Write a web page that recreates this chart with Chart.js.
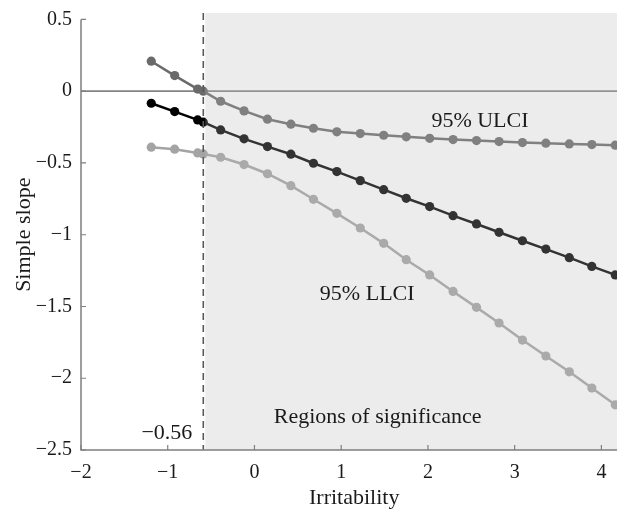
<!DOCTYPE html>
<html>
<head>
<meta charset="utf-8">
<script src="https://cdn.jsdelivr.net/npm/chart.js@4.4.1/dist/chart.umd.min.js"></script>
<style>
html,body{margin:0;padding:0;background:#fff;}
#wrap{width:617px;height:509px;position:relative;}
</style>
</head>
<body>
<div id="wrap"><canvas id="c" width="617" height="509"></canvas></div>
<script>
// Moderator values (Irritability)
const irritability = [-1.19, -0.92, -0.655, -0.59, -0.39, -0.12, 0.15, 0.42, 0.68, 0.95, 1.22, 1.49, 1.75, 2.02, 2.29, 2.56, 2.82, 3.09, 3.36, 3.63, 3.89, 4.16];
// Upper limit of 95% CI
const ulci = [0.209, 0.109, 0.015, 0.0, -0.07, -0.137, -0.195, -0.23, -0.258, -0.283, -0.295, -0.307, -0.318, -0.328, -0.337, -0.344, -0.351, -0.358, -0.362, -0.367, -0.372, -0.376];
// Simple slope estimate
const slope = [-0.084, -0.142, -0.2, -0.216, -0.27, -0.332, -0.386, -0.439, -0.502, -0.56, -0.623, -0.686, -0.746, -0.804, -0.867, -0.925, -0.983, -1.042, -1.1, -1.16, -1.221, -1.28];
// Lower limit of 95% CI
const llci = [-0.39, -0.404, -0.43, -0.437, -0.46, -0.511, -0.575, -0.658, -0.753, -0.851, -0.953, -1.06, -1.174, -1.28, -1.395, -1.506, -1.615, -1.734, -1.845, -1.955, -2.068, -2.185];
// Johnson-Neyman point
const jnPoint = -0.59;
const jnLabel = "\u22120.56";
// Tick values
const xTicks = [-2, -1, 0, 1, 2, 3, 4];
const yTicks = [-2.5, -2, -1.5, -1, -0.5, 0, 0.5];
const xLabel = "Irritability";
const yLabel = "Simple slope";

const SERIF = "'Liberation Serif', 'Times New Roman', serif";
const fmt = v => (v < 0 ? "\u2212" + Math.abs(v) : String(v));
const pts = arr => irritability.map((x, i) => ({x: x, y: arr[i]}));

const overlayPlugin = {
  id: 'overlay',
  beforeDatasetsDraw(chart) {
    const {ctx, chartArea: a, scales: {x, y}} = chart;
    ctx.save();
    const y0 = y.getPixelForValue(0);
    ctx.strokeStyle = '#858585';
    ctx.lineWidth = 1.8;
    ctx.beginPath(); ctx.moveTo(a.left, y0); ctx.lineTo(a.right, y0); ctx.stroke();
    ctx.restore();
  },
  afterDatasetsDraw(chart) {
    const {ctx, chartArea: a, scales: {x, y}} = chart;
    ctx.save();
    const xj = x.getPixelForValue(jnPoint);
    ctx.fillStyle = 'rgba(186,186,186,0.275)';
    ctx.fillRect(xj + 2, a.top, a.right - xj - 2, a.bottom - a.top);
    ctx.strokeStyle = '#5a5a5a';
    ctx.lineWidth = 1.6;
    ctx.setLineDash([7, 5]);
    ctx.beginPath(); ctx.moveTo(xj, a.top); ctx.lineTo(xj, a.bottom); ctx.stroke();
    ctx.setLineDash([]);
    ctx.strokeStyle = '#7f7f7f';
    ctx.lineWidth = 1.5;
    const yTop = y.getPixelForValue(yTicks[yTicks.length - 1]);
    ctx.beginPath();
    ctx.moveTo(a.left, yTop); ctx.lineTo(a.left, a.bottom); ctx.lineTo(a.right, a.bottom);
    ctx.stroke();
    ctx.lineWidth = 1.2;
    ctx.beginPath();
    yTicks.forEach(v => { const p = y.getPixelForValue(v); ctx.moveTo(a.left, p); ctx.lineTo(a.left + 5, p); });
    xTicks.forEach(v => { const p = x.getPixelForValue(v); ctx.moveTo(p, a.bottom); ctx.lineTo(p, a.bottom - 5); });
    ctx.stroke();
    ctx.fillStyle = '#1a1a1a';
    ctx.font = '22px ' + SERIF;
    ctx.textBaseline = 'alphabetic';
    ctx.textAlign = 'center';
    ctx.fillText('95% ULCI', x.getPixelForValue(2.6), y.getPixelForValue(-0.246));
    ctx.fillText('95% LLCI', x.getPixelForValue(1.3), y.getPixelForValue(-1.453));
    ctx.fillText('Regions of significance', x.getPixelForValue(1.42), y.getPixelForValue(-2.312));
    ctx.textAlign = 'right';
    ctx.fillText(jnLabel, xj - 11, y.getPixelForValue(-2.424));
    ctx.font = '22px ' + SERIF;
    ctx.textAlign = 'center';
    ctx.fillText(xLabel, x.getPixelForValue(1.15), 504);
    ctx.save();
    ctx.translate(30, y.getPixelForValue(-1.0));
    ctx.rotate(-Math.PI / 2);
    ctx.fillText(yLabel, 0, 0);
    ctx.restore();
    ctx.restore();
  }
};

const common = {showLine: true, borderWidth: 2.5, pointRadius: 4.6, pointHoverRadius: 4.6, pointBorderWidth: 0, tension: 0, clip: false};

new Chart(document.getElementById('c'), {
  type: 'scatter',
  data: {
    datasets: [
      Object.assign({label: '95% ULCI', data: pts(ulci), borderColor: '#6a6a6a', backgroundColor: '#6a6a6a'}, common),
      Object.assign({label: 'Simple slope', data: pts(slope), borderColor: '#000000', backgroundColor: '#000000'}, common),
      Object.assign({label: '95% LLCI', data: pts(llci), borderColor: '#a4a4a4', backgroundColor: '#a4a4a4'}, common)
    ]
  },
  options: {
    responsive: false,
    animation: false,
    events: [],
    layout: {autoPadding: false, padding: {top: 13, right: 0, left: 0, bottom: 0}},
    plugins: {legend: {display: false}, tooltip: {enabled: false}},
    scales: {
      x: {
        type: 'linear', min: -2, max: 4.18,
        grid: {display: false, drawTicks: false},
        border: {display: false},
        afterBuildTicks: s => { s.ticks = xTicks.map(v => ({value: v})); },
        afterFit: s => { s.height = 59; s.paddingLeft = 0; s.paddingRight = 0; },
        ticks: {padding: 11, color: '#1a1a1a', font: {family: SERIF, size: 20}, callback: v => fmt(v), maxRotation: 0, autoSkip: false}
      },
      y: {
        type: 'linear', min: -2.5, max: 0.545,
        grid: {display: false, drawTicks: false},
        border: {display: false},
        afterBuildTicks: s => { s.ticks = yTicks.map(v => ({value: v})); },
        afterFit: s => { s.width = 81; s.paddingTop = 0; s.paddingBottom = 0; },
        ticks: {padding: 9, color: '#1a1a1a', font: {family: SERIF, size: 20}, callback: v => fmt(v), autoSkip: false}
      }
    }
  },
  plugins: [overlayPlugin]
});
</script>
</body>
</html>
